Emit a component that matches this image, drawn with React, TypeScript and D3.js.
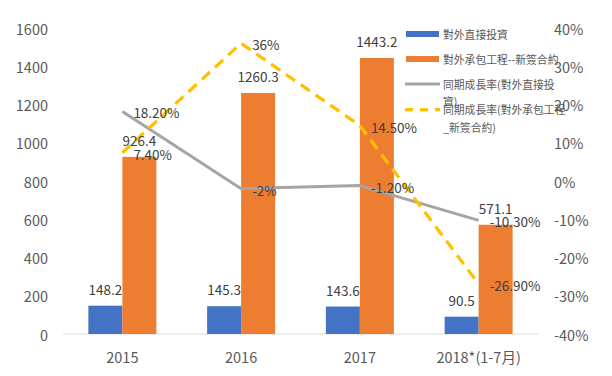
import React from "react";
import * as d3 from "d3";

const categories = ["2015", "2016", "2017", "2018*(1-7月)"];
const fdiValues = [148.2, 145.3, 143.6, 90.5];
const contractValues = [926.4, 1260.3, 1443.2, 571.1];
const fdiGrowth = [18.2, -2, -1.2, -10.3];
const contractGrowth = [7.4, 36, 14.5, -26.9];
const fdiGrowthLabels = ["18.20%", "-2%", "-1.20%", "-10.30%"];
const contractGrowthLabels = ["7.40%", "36%", "14.50%", "-26.90%"];
const leftTicks = [0, 200, 400, 600, 800, 1000, 1200, 1400, 1600];
const rightTicks = [-40, -30, -20, -10, 0, 10, 20, 30, 40];
const seriesNames = [
  "對外直接投資",
  "對外承包工程--新簽合約",
  "同期成長率(對外直接投資)",
  "同期成長率(對外承包工程_新簽合約)",
];

const W = 612;
const H = 376;
const FONT = "'Noto Sans CJK TC', 'Noto Sans', sans-serif";
const BLUE = "#4472c4";
const ORANGE = "#ed7d31";
const GRAY = "#a5a5a5";
const YELLOW = "#ffc000";
const TICK = "#595959";
const LABEL = "#404040";

export default function App() {
  const x = d3.scaleBand<string>().domain(categories).range([63, 538]).padding(0);
  const yL = d3.scaleLinear().domain([0, 1600]).range([334, 28]);
  const yR = d3.scaleLinear().domain([-40, 40]).range([334, 28]);
  const barW = 34;
  const cx = (c: string) => (x(c) as number) + x.bandwidth() / 2;

  const line = d3
    .line<[number, number]>()
    .x((d) => d[0])
    .y((d) => d[1]);

  const fdiPts: [number, number][] = categories.map((c, i) => [cx(c), yR(fdiGrowth[i])]);
  const conPts: [number, number][] = categories.map((c, i) => [cx(c), yR(contractGrowth[i])]);

  return (
    <svg
      width={W}
      height={H}
      style={{ position: "absolute", left: 0, top: 0, background: "#fff" }}
      fontFamily={FONT}
    >
      <rect x={0} y={0} width={W} height={H} fill="#fff" />
      {leftTicks.map((t) => (
        <text key={"l" + t} x={48} y={yL(t)} textAnchor="end" dominantBaseline="central" fontSize={14.5} fill={TICK}>
          {t}
        </text>
      ))}
      {rightTicks.map((t) => (
        <text key={"r" + t} x={554} y={yR(t)} textAnchor="start" dominantBaseline="central" fontSize={14.5} fill={TICK}>
          {t + "%"}
        </text>
      ))}
      <line x1={63} x2={538} y1={yL(0)} y2={yL(0)} stroke="#d9d9d9" strokeWidth={1} />
      {categories.map((c) => (
        <text key={"c" + c} x={cx(c)} y={356} textAnchor="middle" dominantBaseline="central" fontSize={14.5} fill={TICK}>
          {c}
        </text>
      ))}
      {categories.map((c, i) => (
        <g key={"b" + c}>
          <rect x={cx(c) - barW} y={yL(fdiValues[i])} width={barW} height={yL(0) - yL(fdiValues[i])} fill={BLUE} />
          <rect x={cx(c)} y={yL(contractValues[i])} width={barW} height={yL(0) - yL(contractValues[i])} fill={ORANGE} />
        </g>
      ))}
      <path d={line(fdiPts) || ""} fill="none" stroke={GRAY} strokeWidth={3} strokeLinejoin="round" />
      <path d={line(conPts) || ""} fill="none" stroke={YELLOW} strokeWidth={3.25} strokeDasharray="11,7" />
      {categories.map((c, i) => (
        <g key={"bl" + c}>
          <text x={cx(c) - barW / 2} y={yL(fdiValues[i]) - 17} textAnchor="middle" dominantBaseline="central" fontSize={13.5} fill={LABEL}>
            {fdiValues[i]}
          </text>
          <text x={cx(c) + barW / 2} y={yL(contractValues[i]) - 17} textAnchor="middle" dominantBaseline="central" fontSize={13.5} fill={LABEL}>
            {contractValues[i]}
          </text>
        </g>
      ))}
      {fdiPts.map((p, i) => (
        <text key={"fl" + i} x={p[0] + 11} y={p[1] + 1} dominantBaseline="central" fontSize={13.5} fill={LABEL}>
          {fdiGrowthLabels[i]}
        </text>
      ))}
      {conPts.map((p, i) => (
        <text key={"cl" + i} x={p[0] + 11} y={p[1] + 1} dominantBaseline="central" fontSize={13.5} fill={LABEL}>
          {contractGrowthLabels[i]}
        </text>
      ))}
      <g fontSize={10.8} fill={TICK}>
        <rect x={406} y={31} width={33} height={6} fill={BLUE} />
        <text x={443} y={34} dominantBaseline="central">{seriesNames[0]}</text>
        <rect x={406} y={56} width={33} height={6} fill={ORANGE} />
        <text x={443} y={59} dominantBaseline="central">{seriesNames[1]}</text>
        <line x1={405} x2={440} y1={84} y2={84} stroke={GRAY} strokeWidth={3} />
        <text x={443} y={84} dominantBaseline="central">{seriesNames[2].slice(0, 11)}</text>
        <text x={443} y={101} dominantBaseline="central">{seriesNames[2].slice(11)}</text>
        <line x1={405} x2={440} y1={109.5} y2={109.5} stroke={YELLOW} strokeWidth={3.25} strokeDasharray="8,7" />
        <text x={443} y={109} dominantBaseline="central">{seriesNames[3].slice(0, 12)}</text>
        <text x={443} y={127} dominantBaseline="central">{seriesNames[3].slice(12)}</text>
      </g>
    </svg>
  );
}
